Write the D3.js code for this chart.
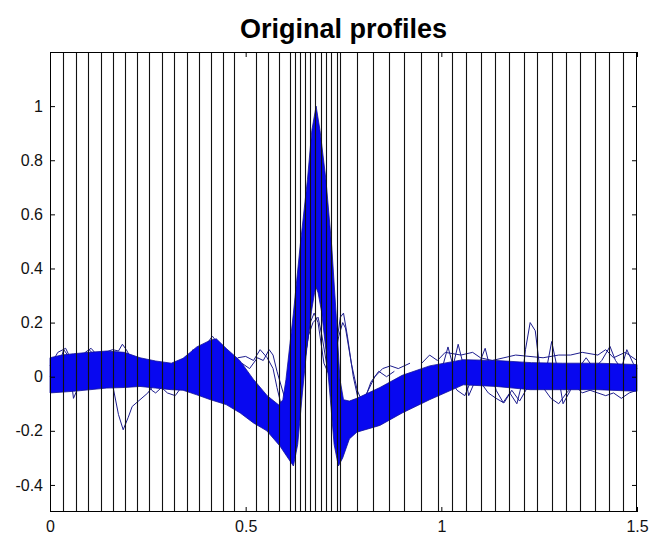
<!DOCTYPE html>
<html><head><meta charset="utf-8">
<script src="https://cdn.jsdelivr.net/npm/d3@7"></script>
<style>body{margin:0;background:#fff}svg{display:block}</style>
</head><body>
<svg id="c" width="650" height="535"></svg>
<script>
// ---- data ----
const title = "Original profiles";
const xTicks = [0, 0.5, 1, 1.5];
const xTickLabels = ["0", "0.5", "1", "1.5"];
const yTicks = [-0.4, -0.2, 0, 0.2, 0.4, 0.6, 0.8, 1];
const yTickLabels = ["-0.4", "-0.2", "0", "0.2", "0.4", "0.6", "0.8", "1"];
const xDomain = [0, 1.5];
const yDomain = [-0.5, 1.2];

// vertical segmentation lines (x positions)
const vLines = [0.0325, 0.0664, 0.098, 0.1296, 0.160, 0.1917, 0.223, 0.2538, 0.285, 0.317,
  0.349, 0.381, 0.412, 0.441, 0.469, 0.526, 0.556, 0.585, 0.614, 0.627, 0.640, 0.652,
  0.665, 0.678, 0.692, 0.705, 0.717, 0.733, 0.741, 0.784, 0.825, 0.866, 0.905, 0.948,
  0.991, 1.027, 1.063, 1.101, 1.137, 1.174, 1.210, 1.245, 1.282, 1.319, 1.354, 1.393,
  1.429, 1.465];

// dense band of profiles: upper/outer edge and lower/inner edge
const bandTop = [[0,0.07],[0.03,0.08],[0.06,0.085],[0.1,0.09],[0.145,0.095],[0.19,0.09],
  [0.23,0.07],[0.27,0.058],[0.31,0.05],[0.34,0.068],[0.375,0.11],[0.41,0.135],[0.425,0.14],
  [0.45,0.105],[0.485,0.06],[0.52,-0.01],[0.555,-0.07],[0.585,-0.105],[0.595,-0.085],
  [0.603,-0.01],[0.622,0.235],[0.639,0.48],[0.658,0.73],[0.669,0.91],[0.68,1.0],
  [0.69,0.91],[0.705,0.73],[0.72,0.48],[0.731,0.235],[0.741,-0.01],[0.75,-0.085],
  [0.765,-0.09],[0.784,-0.08],[0.843,-0.04],[0.9,0.005],[0.97,0.04],[1.056,0.063],
  [1.14,0.06],[1.23,0.052],[1.31,0.05],[1.4,0.05],[1.5,0.045]];
const bandBottom = [[0,-0.06],[0.06,-0.054],[0.145,-0.042],[0.19,-0.04],[0.23,-0.036],
  [0.27,-0.042],[0.31,-0.048],[0.34,-0.05],[0.375,-0.067],[0.41,-0.085],[0.45,-0.103],
  [0.486,-0.134],[0.52,-0.171],[0.554,-0.2],[0.588,-0.257],[0.605,-0.294],[0.622,-0.33],
  [0.633,-0.25],[0.645,-0.06],[0.656,0.1],[0.668,0.24],[0.676,0.31],[0.68,0.33],
  [0.685,0.31],[0.694,0.24],[0.705,0.1],[0.715,-0.06],[0.726,-0.25],[0.737,-0.33],
  [0.748,-0.3],[0.765,-0.23],[0.784,-0.205],[0.843,-0.18],[0.9,-0.134],[0.97,-0.085],
  [1.056,-0.03],[1.14,-0.036],[1.227,-0.048],[1.31,-0.048],[1.4,-0.048],[1.5,-0.054]];

// individual outlying profiles (visible parts)
const outlier1 = [[0,0.0],[0.02,0.03],[0.035,0.1],[0.05,0.07],[0.055,-0.02],[0.06,-0.08],
  [0.075,-0.03],[0.09,0.06],[0.1,0.1],[0.12,0.07],[0.145,0.02],[0.16,-0.03],[0.175,-0.14],
  [0.187,-0.196],[0.2,-0.15],[0.21,-0.11],[0.23,-0.085],[0.25,-0.06],[0.27,-0.02],[0.3,0.0]];
const outlier2 = [[0,0.04],[0.02,0.09],[0.04,0.105],[0.055,0.06],[0.07,0.04],[0.09,0.09],
  [0.105,0.105],[0.12,0.08],[0.14,0.09],[0.16,0.1],[0.175,0.095],[0.185,0.12],[0.195,0.1],
  [0.21,0.06],[0.225,0.03],[0.24,0.02],[0.25,-0.02],[0.26,-0.05],[0.27,-0.06],[0.285,-0.04],
  [0.3,-0.06],[0.32,-0.07],[0.335,-0.04],[0.35,0.02],[0.365,0.1],[0.38,0.08],[0.4,0.12],
  [0.415,0.15],[0.43,0.12]];
const outlier3 = [[0.46,0.03],[0.48,0.07],[0.5,0.075],[0.52,0.06],[0.537,0.1],[0.555,0.07],
  [0.57,0.03],[0.58,-0.04],[0.59,-0.1],[0.61,-0.15],[0.63,-0.1],[0.65,0.05],[0.665,0.2],
  [0.675,0.235],[0.685,0.2],[0.7,0.05],[0.715,0.0],[0.73,0.1],[0.742,0.22],[0.75,0.235],
  [0.76,0.15],[0.775,0.0],[0.79,-0.1],[0.81,-0.06],[0.83,0.0],[0.85,0.03],[0.87,0.04],
  [0.89,0.03],[0.92,0.05]];
const outlier4 = [[0.49,0.05],[0.51,0.03],[0.53,0.07],[0.545,0.06],[0.56,0.1],[0.57,0.08],
  [0.58,0.02],[0.6,-0.08],[0.62,-0.12],[0.645,0.0],[0.66,0.15],[0.672,0.2],[0.685,0.22],
  [0.695,0.15],[0.71,0.02],[0.725,0.05],[0.738,0.15],[0.748,0.2],[0.755,0.18],[0.77,0.05],
  [0.785,-0.05],[0.8,-0.1],[0.82,-0.02],[0.84,0.02],[0.86,0.0],[0.88,0.02]];
const outlier5 = [[1.0,0.02],[1.017,0.11],[1.03,0.04],[1.043,0.12],[1.055,0.05],[1.07,-0.07],
  [1.085,-0.02],[1.1,0.06],[1.112,0.105],[1.125,0.03],[1.14,-0.05],[1.158,-0.095],
  [1.175,-0.06],[1.193,-0.1],[1.205,-0.03],[1.215,0.1],[1.227,0.2],[1.24,0.17],[1.25,0.05],
  [1.265,0.0],[1.282,0.13],[1.295,0.04],[1.311,-0.1],[1.33,-0.05],[1.35,0.03],[1.37,0.07],
  [1.39,0.03],[1.41,0.06],[1.431,0.112],[1.445,0.06],[1.46,0.03],[1.474,0.1],[1.49,0.05],
  [1.5,0.03]];
const outlier6 = [[1.0,-0.03],[1.02,0.0],[1.04,-0.05],[1.06,-0.07],[1.08,0.0],[1.1,-0.02],
  [1.12,-0.06],[1.14,-0.08],[1.16,-0.097],[1.18,-0.05],[1.2,-0.09],[1.22,-0.04],[1.24,0.0],
  [1.26,-0.04],[1.28,-0.08],[1.3,-0.1],[1.32,-0.06],[1.34,-0.03],[1.36,-0.06],[1.38,-0.05],
  [1.4,-0.06],[1.42,-0.07],[1.44,-0.06],[1.46,-0.08],[1.48,-0.06],[1.5,-0.05]];
const outlier7 = [[0.95,0.05],[0.97,0.08],[0.99,0.06],[1.01,0.09],[1.05,0.08],[1.08,0.09],
  [1.1,0.07],[1.13,0.06],[1.16,0.07],[1.19,0.08],[1.26,0.07],[1.3,0.08],[1.33,0.08],
  [1.36,0.09],[1.4,0.08],[1.42,0.1],[1.44,0.07],[1.47,0.09],[1.5,0.06]];
const outliers = [outlier1, outlier2, outlier3, outlier4, outlier5, outlier6, outlier7];

// ---- drawing ----
const L = 50, R = 637, T = 52, B = 512;
const svg = d3.select("#c");
const x = d3.scaleLinear().domain(xDomain).range([L, R]);
const y = d3.scaleLinear().domain(yDomain).range([B, T]);
const line = d3.line().x(d => x(d[0])).y(d => y(d[1]));

svg.append("rect").attr("x", L).attr("y", T).attr("width", R - L).attr("height", B - T)
  .attr("fill", "#fff");

const plot = svg.append("g");
plot.selectAll("path.out").data(outliers).join("path").attr("class", "out")
  .attr("d", line).attr("fill", "none").attr("stroke", "#1c1c8e").attr("stroke-width", 1);

const band = bandTop.concat(bandBottom.slice().reverse());
plot.append("path").attr("d", line(band) + "Z")
  .attr("fill", "#0808f0").attr("stroke", "#10109a").attr("stroke-width", 0.8);

plot.selectAll("line.v").data(vLines).join("line").attr("class", "v")
  .attr("x1", d => Math.round(x(d)) + 0.5).attr("x2", d => Math.round(x(d)) + 0.5)
  .attr("y1", T).attr("y2", B).attr("stroke", "#111").attr("stroke-width", 1.1);

// axes box with inward ticks
const tickLen = 5;
const axB = d3.axisBottom(x).tickValues(xTicks).tickSizeInner(-tickLen).tickSizeOuter(0)
  .tickFormat((d, i) => xTickLabels[i]);
const axT = d3.axisTop(x).tickValues(xTicks).tickSizeInner(-tickLen).tickSizeOuter(0)
  .tickFormat("");
const axL = d3.axisLeft(y).tickValues(yTicks).tickSizeInner(-tickLen).tickSizeOuter(0)
  .tickFormat((d, i) => yTickLabels[i]);
const axR = d3.axisRight(y).tickValues(yTicks).tickSizeInner(-tickLen).tickSizeOuter(0)
  .tickFormat("");

function style(g) {
  g.select(".domain").remove();
  g.selectAll(".tick line").attr("stroke", "#000").attr("stroke-width", 1);
  g.selectAll(".tick text").attr("fill", "#111")
    .style("font-family", "'Liberation Sans', Arial, sans-serif").style("font-size", "16px");
}
svg.append("g").attr("transform", `translate(0,${B})`).call(axB).call(style)
  .selectAll(".tick text").attr("y", 9);
svg.append("g").attr("transform", `translate(0,${T})`).call(axT).call(style);
svg.append("g").attr("transform", `translate(${L},0)`).call(axL).call(style)
  .selectAll(".tick text").attr("x", -7);
svg.append("g").attr("transform", `translate(${R},0)`).call(axR).call(style);

svg.append("rect").attr("x", L + 0.5).attr("y", T + 0.5).attr("width", R - L - 1)
  .attr("height", B - T - 1).attr("fill", "none").attr("stroke", "#000").attr("stroke-width", 1);

svg.append("text").attr("x", (L + R) / 2).attr("y", 38).attr("text-anchor", "middle")
  .style("font-family", "'Liberation Sans', Arial, sans-serif").style("font-size", "27px")
  .style("font-weight", "bold").attr("fill", "#000").text(title);
</script>
</body></html>
